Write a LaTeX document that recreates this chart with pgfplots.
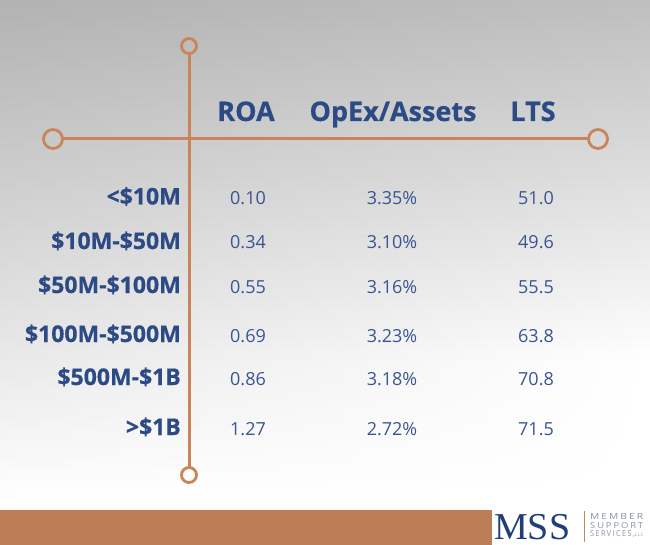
\documentclass[border=0pt]{standalone}
\usepackage{fontspec}
\setmainfont{Open Sans}
\newfontfamily\logoserif{Liberation Serif}
\newfontfamily\logosans[LetterSpace=20]{Open Sans}
\usepackage{pgfplots}
\usepackage{pgfplotstable}
\pgfplotsset{compat=1.18}
\definecolor{navy}{HTML}{2C4A84}
\definecolor{valcol}{HTML}{3A5590}
\definecolor{oline}{HTML}{C98459}
\definecolor{barcol}{HTML}{BD7D57}
\definecolor{logogray}{HTML}{8A93A8}
\definecolor{logonavy}{HTML}{1F3F7A}
\newcommand\hfont{\bfseries\addfontfeatures{FakeBold=0.6}}

\pgfplotstableread{
y cat roa opex lts
204.5 <\$10M 0.10 3.35 51.0
249 \$10M-\$50M 0.34 3.10 49.6
293 \$50M-\$100M 0.55 3.16 55.5
342 \$100M-\$500M 0.69 3.23 63.8
385 \$500M-\$1B 0.86 3.18 70.8
435 >\$1B 1.27 2.72 71.5
}\data

\begin{document}
\begin{tikzpicture}
% background gradient (decoration)
\foreach \i in {0,...,54}{
  \pgfmathsetmacro\yy{\i*10}
  \pgfmathsetmacro\L{max(0,30-0.06*\yy)}
  \pgfmathsetmacro\M{max(0,20-0.074*\yy)}
  \pgfmathsetmacro\R{max(0,25-0.07*\yy)}
  \shade[left color=black!\L, middle color=black!\M, right color=black!\R]
    (0pt,{(545-\yy-10.6)*1pt}) rectangle (650pt,{(545-\yy)*1pt});
}
\begin{axis}[width=650pt,height=545pt,scale only axis,hide axis,
  xmin=0,xmax=650,ymin=0,ymax=545,y dir=reverse,clip=false,
  /pgf/number format/assume math mode=true]
% cross lines
\addplot[oline, line width=3pt, mark=none] coordinates {(189,53.5) (189,467.5)};
\addplot[oline, line width=3pt, mark=none] coordinates {(63,139) (588,139)};
\addplot[only marks, mark=o, mark size=7.5pt, mark options={draw=oline, line width=2.8pt}] coordinates {(189,46) (189,475)};
\addplot[only marks, mark=o, mark size=9.5pt, mark options={draw=oline, line width=2.8pt}] coordinates {(53,139) (598,139)};
% headers
\node[anchor=base, inner sep=0pt, text=navy, font=\hfont\fontsize{27}{30}\selectfont] at (axis cs:246,121) {ROA};
\node[anchor=base, inner sep=0pt, text=navy, font=\hfont\fontsize{27}{30}\selectfont] at (axis cs:393,121) {OpEx/Assets};
\node[anchor=base, inner sep=0pt, text=navy, font=\hfont\fontsize{27}{30}\selectfont] at (axis cs:533,121) {LTS};
% categories
\addplot[draw=none, mark=none, nodes near coords, point meta=explicit symbolic,
  nodes near coords style={anchor=base east, inner sep=0pt, text=navy, font=\hfont\fontsize{23}{26}\selectfont}]
  table[x expr=181, y=y, meta=cat] {\data};
% ROA
\addplot[draw=none, mark=none, point meta=explicit,
  nodes near coords={\pgfmathprintnumber[fixed,fixed zerofill,precision=2]{\pgfplotspointmeta}},
  nodes near coords style={anchor=base, inner sep=0pt, text=valcol, font=\fontsize{18}{20}\selectfont}]
  table[x expr=248, y=y, meta=roa] {\data};
% OpEx/Assets
\addplot[draw=none, mark=none, point meta=explicit,
  nodes near coords={\pgfmathprintnumber[fixed,fixed zerofill,precision=2]{\pgfplotspointmeta}\%},
  nodes near coords style={anchor=base, inner sep=0pt, text=valcol, font=\fontsize{18}{20}\selectfont}]
  table[x expr=392, y=y, meta=opex] {\data};
% LTS
\addplot[draw=none, mark=none, point meta=explicit,
  nodes near coords={\pgfmathprintnumber[fixed,fixed zerofill,precision=1]{\pgfplotspointmeta}},
  nodes near coords style={anchor=base, inner sep=0pt, text=valcol, font=\fontsize{18}{20}\selectfont}]
  table[x expr=536, y=y, meta=lts] {\data};
% footer bar and logo
\fill[barcol] (axis cs:0,510) rectangle (axis cs:492,545);
\fill[white] (axis cs:492,509) rectangle (axis cs:650,545);
\node[anchor=base west, inner sep=0pt, text height=25pt, text depth=0pt, text=logonavy, font=\logoserif\fontsize{38}{38}\selectfont] at (axis cs:494,539) {MSS};
\draw[oline, line width=0.9pt] (axis cs:584,511) -- (axis cs:584,542);
\node[anchor=base west, inner sep=0pt, text depth=0pt, text=logogray, font=\logosans\fontsize{8}{8}\selectfont] at (axis cs:590,519.5) {\resizebox{53pt}{6pt}{MEMBER}};
\node[anchor=base west, inner sep=0pt, text depth=0pt, text=logogray, font=\logosans\fontsize{8}{8}\selectfont] at (axis cs:590,528) {\resizebox{53pt}{6pt}{SUPPORT}};
\node[anchor=base west, inner sep=0pt, text depth=0pt, text=logogray, font=\logosans\fontsize{8}{8}\selectfont] at (axis cs:590,536.5) {\resizebox{53pt}{6pt}{SERVICES,\fontsize{4.5}{5}\selectfont LLC}};
\end{axis}
\pgfresetboundingbox
\useasboundingbox (0,0) rectangle (650pt,545pt);
\end{tikzpicture}
\end{document}
